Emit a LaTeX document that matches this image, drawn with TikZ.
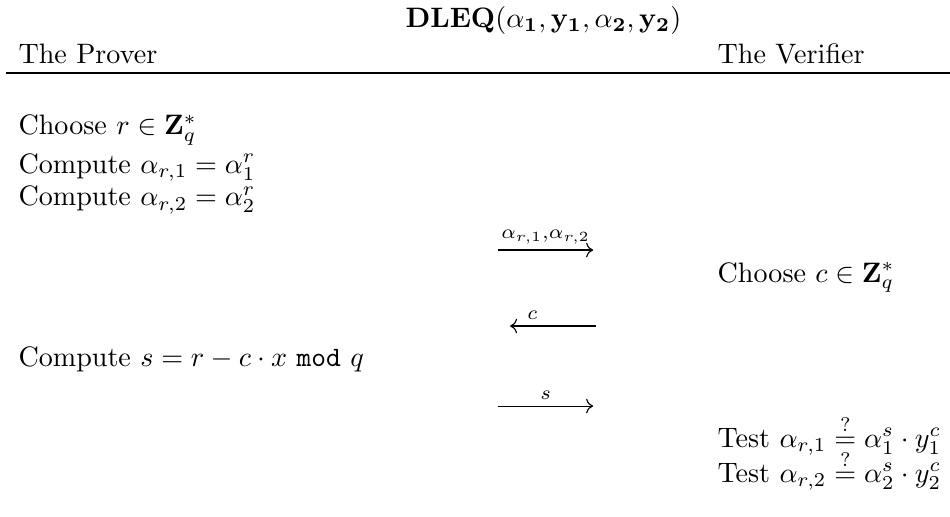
\documentclass[tikz,border=0pt]{standalone}
\usepackage{amsmath}
\usepackage{amsfonts}
\usepackage{tikz}
\usetikzlibrary{arrows.meta, positioning}

\begin{document}
\begin{tikzpicture}[
  txt/.style={anchor=base west, inner sep=0pt},
  msg/.style={-{To}, thin},
  lbl/.style={above, inner sep=2pt},
  rule/.style={line width=0.8pt},
]
\useasboundingbox (0, 0) rectangle (11.88, -6.454);
% header
\node[txt] (title)    at (5.065, -0.338) {$\mathbf{DLEQ}(\alpha_{\mathbf{1}},\mathbf{y_1},\alpha_{\mathbf{2}},\mathbf{y_2})$};
\node[txt] (prover)   at (0.225, -0.788) {The Prover};
\node[txt] (verifier) at (8.968, -0.788) {The Verifier};
\coordinate (ruleL) at (0.075, -0.913);
\coordinate (ruleR) at (11.88, -0.913);
\draw[rule] (ruleL) -- (ruleR);
% prover side
\node[txt] (chooser) at (0.225, -1.688) {Choose $r \in \mathbf{Z}_q^*$};
\node[txt] (comp1)   at (0.225, -2.164) {Compute $\alpha_{r,1} = \alpha_1^r$};
\node[txt] (comp2)   at (0.225, -2.576) {Compute $\alpha_{r,2} = \alpha_2^r$};
\node[txt] (comps)   at (0.225, -4.578) {Compute $s = r - c \cdot x~\texttt{mod}~q$};
% verifier side
\node[txt] (choosec) at (8.968, -3.527) {Choose $c \in \mathbf{Z}_q^*$};
\node[txt] (test1)   at (8.968, -5.591) {Test $\alpha_{r,1} \stackrel{?}{=} \alpha_1^s \cdot y_1^c$};
\node[txt] (test2)   at (8.968, -6.028) {Test $\alpha_{r,2} \stackrel{?}{=} \alpha_2^s \cdot y_2^c$};
% messages
\coordinate (m1a) at (6.228, -3.127);
\coordinate (m1b) at (7.417, -3.127);
\coordinate (m2a) at (7.454, -4.077);
\coordinate (m2b) at (6.379, -4.077);
\coordinate (m3a) at (6.228, -5.078);
\coordinate (m3b) at (7.417, -5.078);
\draw[msg] (m1a) -- (m1b) node[midway, lbl] {$\scriptstyle\alpha_{r,1},\alpha_{r,2}$};
\draw[msg] (m2a) -- (m2b) node[pos=0.74, lbl] {$\scriptstyle c$};
\draw[msg] (m3a) -- (m3b) node[midway, lbl] {$\scriptstyle s$};
\end{tikzpicture}
\end{document}
